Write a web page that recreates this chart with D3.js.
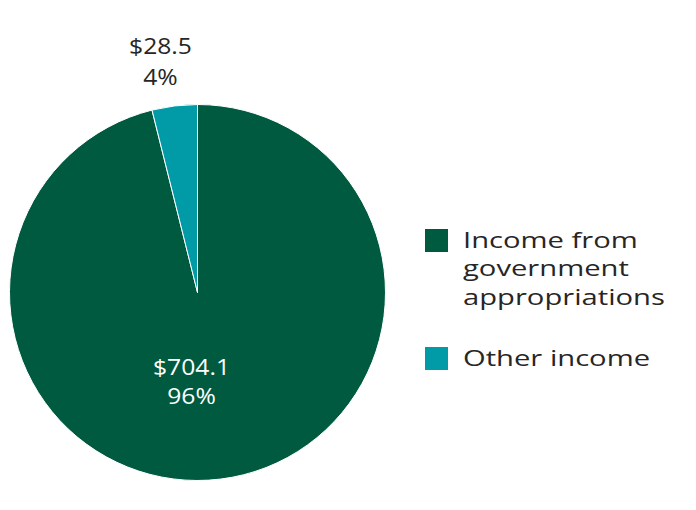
<!DOCTYPE html>
<html><head><meta charset="utf-8">
<script src="https://cdn.jsdelivr.net/npm/d3@7"></script>
<style>body{margin:0;background:#fff}svg{display:block}text{font-family:"Open Sans",sans-serif;font-weight:400}</style>
</head><body><svg width="696" height="510"></svg>
<script>
const categories = ["Income from government appropriations", "Other income"];
const legendLines = [["Income from", "government", "appropriations"], ["Other income"]];
const values = [704.1, 28.5];
const valueLabels = ["$704.1", "$28.5"];
const pctLabels = ["96%", "4%"];
const colors = ["#005a40", "#009ba6"];

const svg = d3.select("svg");
const cx = 197.5, cy = 292.5, R = 188;
const pie = d3.pie().sort(null).value(d => d)(values);
const arc = d3.arc().innerRadius(0).outerRadius(R);
const g = svg.append("g").attr("transform", `translate(${cx},${cy})`);
g.selectAll("path").data(pie).join("path")
  .attr("d", arc).attr("fill", (d, i) => colors[i])
  .attr("stroke", "#fff").attr("stroke-width", 1);

function widthOf(text, size) {
  const p = svg.append("text").attr("font-size", size).attr("x", -2000).attr("y", -2000).text(text);
  const w = p.node().getComputedTextLength();
  p.remove();
  return w;
}

const fs = 22.5;
const sxV = Math.min(1.3, 77 / widthOf(valueLabels[0], fs));
const sxL = Math.min(1.3, 202 / widthOf(legendLines[0][2], fs));

function labelBlock(parent, x, y, lines, fill, sx, anchor, gap) {
  const t = parent.append("text")
    .attr("transform", `translate(${x},${y}) scale(${sx},1)`)
    .attr("text-anchor", anchor).attr("fill", fill).attr("font-size", fs);
  lines.forEach((l, j) => t.append("tspan").attr("x", 0).attr("y", j * gap).text(l));
  return t;
}

// inside label for big slice
labelBlock(g, -6, 82, [valueLabels[0], pctLabels[0]], "#fff", sxV, "middle", 30);
// outside label for small slice
labelBlock(g, -37, -239, [valueLabels[1], pctLabels[1]], "#262626", sxV, "middle", 32);

// legend
const lg = svg.append("g");
const ys = [229, 347];
legendLines.forEach((lines, i) => {
  lg.append("rect").attr("x", 425).attr("y", ys[i]).attr("width", 23).attr("height", 23).attr("fill", colors[i]);
  labelBlock(lg, 463, ys[i] + 19, lines, "#262626", sxL, "start", 28.5);
});
</script></body></html>
